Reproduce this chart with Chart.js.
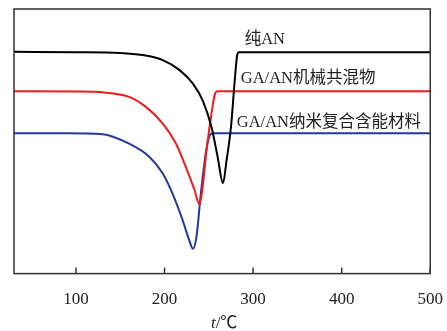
<!DOCTYPE html>
<html>
<head>
<meta charset="utf-8">
<script src="https://cdn.jsdelivr.net/npm/chart.js@4.4.1/dist/chart.umd.min.js"></script>
<style>
  html, body { margin: 0; padding: 0; background: #fff; }
  #wrap { width: 447px; height: 331px; }
</style>
</head>
<body>
<div id="wrap"><canvas id="c"></canvas></div>
<script>
// === 資料 (y is arbitrary heat-flow units 0-100) ===
const xTicks = [100, 200, 300, 400, 500];

const pureT = [30, 100, 150, 175, 198, 217, 232, 243, 253, 260, 266, 270, 275, 279, 282, 284, 300, 400, 500];
const pureV = [83.8, 83.7, 83.4, 82.6, 80.7, 76.9, 71.8, 65.5, 55.4, 44.0, 34.2, 42.8, 55.4, 72.0, 82.5, 83.7, 83.7, 83.7, 83.7];

const mixT = [30, 100, 130, 160, 179, 198, 213, 224, 234, 239.5, 243, 247, 253, 257, 260, 300, 400, 500];
const mixV = [68.9, 68.8, 68.5, 66.8, 63.0, 56.7, 49.1, 40.3, 31.4, 26.1, 32.7, 45.3, 60.5, 68.0, 68.9, 68.9, 68.9, 68.9];

const nanoT = [30, 90, 130, 160, 183, 198, 209, 220.5, 228, 232, 236, 241, 247, 251, 254, 300, 400, 500];
const nanoV = [53.0, 53.0, 52.7, 49.1, 44.1, 37.8, 30.2, 20.1, 12.5, 9.4, 13.8, 30.3, 46.6, 52.2, 53.0, 53.0, 53.0, 53.0];

const seriesNames = ["纯AN", "GA/AN机械共混物", "GA/AN纳米复合含能材料"];
// label anchors (data coords, left-middle of text)
const labelX = [290.5, 286, 281.5];
const labelY = [88.3, 73.5, 57.2];

const toPts = (t, v) => t.map((x, i) => ({ x, y: v[i] }));

const serif = "'Liberation Serif', 'Noto Sans CJK SC', serif";
const ink = "#222";

// === 外框、刻度、標籤、座標軸名稱 ===
const decor = {
  id: "decor",
  afterDraw(chart) {
    const { ctx, chartArea: a, scales } = chart;
    const sx = scales.x, sy = scales.y;
    ctx.save();
    ctx.strokeStyle = "#333";
    ctx.lineWidth = 1.5;
    ctx.strokeRect(a.left, a.top, a.right - a.left, a.bottom - a.top);
    // inward ticks
    xTicks.forEach(v => {
      const px = sx.getPixelForValue(v);
      ctx.beginPath();
      ctx.moveTo(px, a.bottom);
      ctx.lineTo(px, a.bottom - 6);
      ctx.stroke();
    });
    // series labels
    ctx.fillStyle = ink;
    ctx.font = "16.5px " + serif;
    ctx.textBaseline = "middle";
    seriesNames.forEach((n, i) => {
      ctx.fillText(n, sx.getPixelForValue(labelX[i]), sy.getPixelForValue(labelY[i]));
    });
    // axis title t/℃
    ctx.textBaseline = "alphabetic";
    ctx.font = "italic 17px " + serif;
    const tW = ctx.measureText("t").width;
    ctx.font = "17px " + serif;
    const rW = ctx.measureText("/℃").width;
    const cx = (a.left + a.right) / 2 + 2;
    const x0 = cx - (tW + rW) / 2;
    ctx.font = "italic 17px " + serif;
    ctx.fillText("t", x0, 328);
    ctx.font = "17px " + serif;
    ctx.fillText("/℃", x0 + tW, 328);
    ctx.restore();
  }
};

const mk = (label, t, v, color) => ({
  label,
  data: toPts(t, v),
  borderColor: color,
  borderWidth: 2,
  pointRadius: 0,
  fill: false,
  cubicInterpolationMode: "monotone",
});

new Chart(document.getElementById("c"), {
  type: "line",
  data: {
    datasets: [
      mk(seriesNames[0], pureT, pureV, "#000000"),
      mk(seriesNames[1], mixT, mixV, "#f01a1a"),
      mk(seriesNames[2], nanoT, nanoV, "#22399c"),
    ],
  },
  options: {
    responsive: true,
    maintainAspectRatio: false,
    animation: false,
    layout: { padding: { left: 14, right: 0, top: 9, bottom: 17 } },
    plugins: { legend: { display: false }, tooltip: { enabled: false } },
    scales: {
      x: {
        type: "linear",
        min: 30,
        max: 500,
        afterBuildTicks: axis => { axis.ticks = xTicks.map(value => ({ value })); },
        grid: { display: true, drawOnChartArea: false, drawTicks: true, tickLength: 12, color: "rgba(0,0,0,0)" },
        border: { display: false },
        ticks: { color: ink, font: { family: serif, size: 17 }, padding: 4, maxRotation: 0 },
      },
      y: {
        display: false,
        min: 0,
        max: 100,
      },
    },
  },
  plugins: [decor],
});
</script>
</body>
</html>
